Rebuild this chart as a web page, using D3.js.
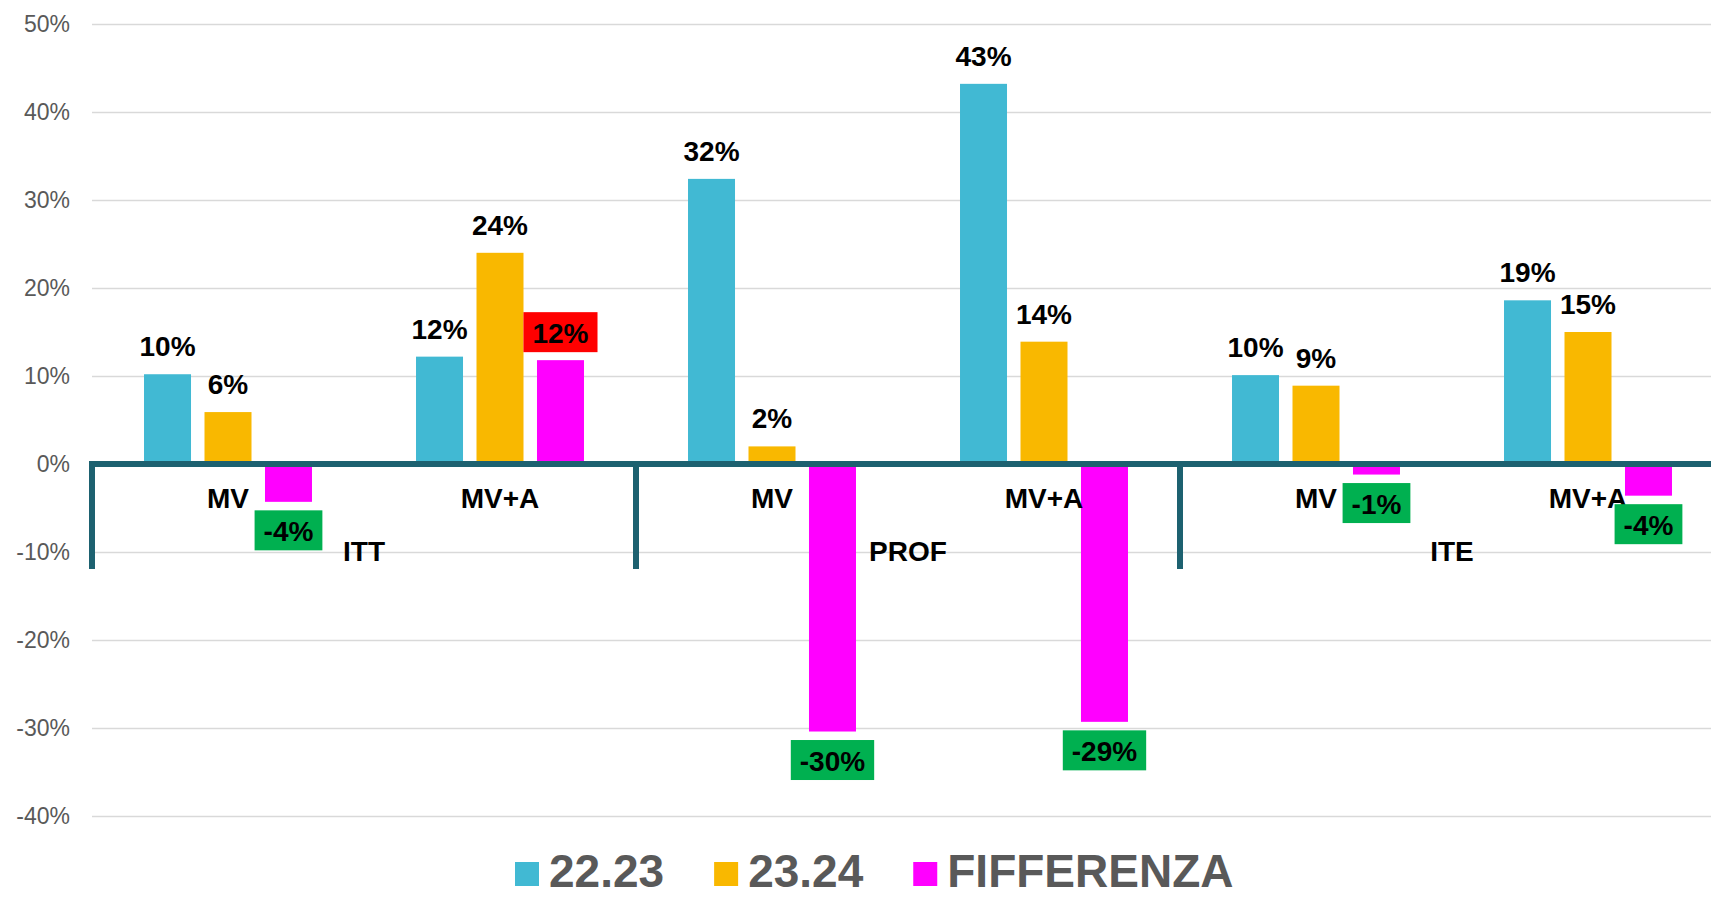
<!DOCTYPE html>
<html>
<head>
<meta charset="utf-8">
<script src="https://cdn.jsdelivr.net/npm/d3@7"></script>
<style>
  html, body { margin: 0; padding: 0; background: #fff; overflow: hidden; }
  svg { display: block; font-family: "Liberation Sans", Arial, sans-serif; }
</style>
</head>
<body>
<div id="chart"></div>
<script>
// chart data
var groupLabels = ["ITT", "PROF", "ITE"];
var subLabels = ["MV", "MV+A", "MV", "MV+A", "MV", "MV+A"];
var seriesNames = ["22.23", "23.24", "FIFFERENZA"];
var values2223 = [0.102, 0.122, 0.324, 0.432, 0.101, 0.186];
var values2324 = [0.059, 0.240, 0.020, 0.139, 0.089, 0.150];
var valuesDiff = [-0.043, 0.118, -0.304, -0.293, -0.012, -0.036];
var yTicks = [-0.4, -0.3, -0.2, -0.1, 0, 0.1, 0.2, 0.3, 0.4, 0.5];

var seriesColors = ["#41b9d3", "#f9b800", "#ff00ff"];
var axisColor = "#1d6170";

var width = 1711,
    height = 897,
    plotLeft = 92,
    plotRight = 1724; // plot runs a bit past the right edge, like the original

var pct = function(v) { return d3.format(".0%")(v).replace("\u2212", "-"); };

var svg = d3.select("#chart").append("svg")
    .attr("width", width)
    .attr("height", height);

// set the ranges
var y = d3.scaleLinear().domain([-0.4, 0.5]).range([816, 24]);
var x0 = d3.scaleBand().domain(d3.range(subLabels.length)).range([plotLeft, plotRight]);
var xg = d3.scaleBand().domain(groupLabels).range([plotLeft, plotRight]);
var x1 = d3.scaleBand().domain(seriesNames).range([0, x0.bandwidth()])
    .paddingInner(0.223).paddingOuter(0.86);

// gridlines
var grid = svg.append("g")
    .attr("transform", "translate(" + plotLeft + ",0)")
    .call(d3.axisLeft(y).tickValues(yTicks).tickSize(-(plotRight - plotLeft)).tickFormat(""));
grid.select(".domain").remove();
grid.selectAll("line").attr("stroke", "#d9d9d9").attr("stroke-width", 1.5);

// y axis labels
var yAxis = svg.append("g")
    .attr("transform", "translate(" + plotLeft + ",0)")
    .call(d3.axisLeft(y).tickValues(yTicks).tickSize(0).tickPadding(22).tickFormat(pct));
yAxis.select(".domain").remove();
yAxis.selectAll("text")
    .attr("font-size", 23)
    .attr("font-family", "Liberation Sans, Arial, sans-serif")
    .attr("fill", "#595959");

// one row per category, one value per series
var seriesValues = [values2223, values2324, valuesDiff];
var rows = subLabels.map(function(s, i) {
  return seriesNames.map(function(n, k) {
    return { i: i, name: n, k: k, value: seriesValues[k][i] };
  });
});

var catG = svg.selectAll(".cat")
    .data(rows)
  .enter().append("g")
    .attr("class", "cat")
    .attr("transform", function(d, i) { return "translate(" + x0(i) + ",0)"; });

// Add the bars
catG.selectAll("rect")
    .data(function(d) { return d; })
  .enter().append("rect")
    .attr("x", function(d) { return x1(d.name); })
    .attr("y", function(d) { return y(Math.max(0, d.value)); })
    .attr("width", x1.bandwidth())
    .attr("height", function(d) { return Math.abs(y(d.value) - y(0)); })
    .attr("fill", function(d) { return seriesColors[d.k]; });

// axis line and group dividers
svg.append("line")
    .attr("x1", plotLeft - 3).attr("x2", plotRight)
    .attr("y1", y(0)).attr("y2", y(0))
    .attr("stroke", axisColor).attr("stroke-width", 6);

var dividers = groupLabels.map(function(g) { return xg(g); }).concat([plotRight]);
svg.selectAll(".divider")
    .data(dividers)
  .enter().append("line")
    .attr("class", "divider")
    .attr("x1", function(d) { return d; }).attr("x2", function(d) { return d; })
    .attr("y1", y(0) - 3).attr("y2", y(0) + 105)
    .attr("stroke", axisColor).attr("stroke-width", 6);

// category labels
svg.selectAll(".subLabel")
    .data(subLabels)
  .enter().append("text")
    .attr("class", "subLabel")
    .attr("x", function(d, i) { return x0(i) + x0.bandwidth() / 2; })
    .attr("y", y(0) + 44)
    .attr("text-anchor", "middle")
    .attr("font-size", 28)
    .attr("font-weight", "bold")
    .attr("fill", "#000")
    .text(function(d) { return d; });

svg.selectAll(".groupLabel")
    .data(groupLabels)
  .enter().append("text")
    .attr("class", "groupLabel")
    .attr("x", function(d) { return xg(d) + xg.bandwidth() / 2; })
    .attr("y", y(0) + 97)
    .attr("text-anchor", "middle")
    .attr("font-size", 28)
    .attr("font-weight", "bold")
    .attr("fill", "#000")
    .text(function(d) { return d; });

// value labels for the two years
var flat = d3.merge(rows);
svg.selectAll(".valLabel")
    .data(flat.filter(function(d) { return d.k < 2; }))
  .enter().append("text")
    .attr("class", "valLabel")
    .attr("x", function(d) { return x0(d.i) + x1(d.name) + x1.bandwidth() / 2; })
    .attr("y", function(d) { return y(d.value) - 18; })
    .attr("text-anchor", "middle")
    .attr("font-size", 28)
    .attr("font-weight", "bold")
    .attr("fill", "#000")
    .text(function(d) { return pct(d.value); });

// difference labels in coloured boxes
var diffG = svg.selectAll(".diffLabel")
    .data(flat.filter(function(d) { return d.k == 2; }))
  .enter().append("g")
    .attr("class", "diffLabel")
    .attr("transform", function(d) {
      var cx = x0(d.i) + x1(d.name) + x1.bandwidth() / 2;
      var top = d.value >= 0 ? y(d.value) - 8 - 40 : y(d.value) + 8.5;
      return "translate(" + cx + "," + top + ")";
    });

diffG.append("rect")
    .attr("y", 0)
    .attr("height", 40)
    .attr("fill", function(d) { return d.value >= 0 ? "#ff0000" : "#00b050"; });

diffG.append("text")
    .attr("y", 30.5)
    .attr("text-anchor", "middle")
    .attr("font-size", 28)
    .attr("font-weight", "bold")
    .attr("fill", "#000")
    .text(function(d) { return pct(d.value); })
    .each(function() {
      var w = this.getComputedTextLength() + 18;
      d3.select(this.parentNode).select("rect").attr("x", -w / 2).attr("width", w);
    });

// legend (nudged up a little so the text is not clipped at the bottom)
var legend = svg.append("g").attr("class", "legend");
var lx = 515;
seriesNames.forEach(function(n, k) {
  legend.append("rect")
      .attr("x", lx).attr("y", 862)
      .attr("width", 24).attr("height", 24)
      .attr("fill", seriesColors[k]);
  var t = legend.append("text")
      .attr("x", lx + 34).attr("y", 887)
      .attr("font-size", 46)
      .attr("font-weight", "bold")
      .attr("fill", "#595959")
      .text(n);
  lx = lx + 34 + t.node().getComputedTextLength() + 50;
});
</script>
</body>
</html>
